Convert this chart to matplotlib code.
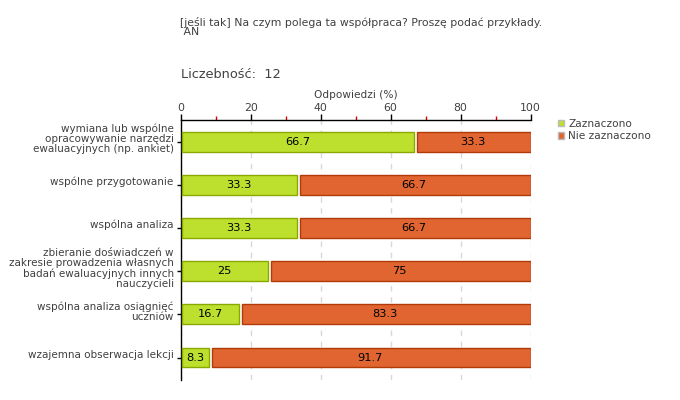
import matplotlib
matplotlib.use("Agg")
import matplotlib.pyplot as plt
import matplotlib.transforms as mtransforms
from matplotlib.ticker import MultipleLocator
from matplotlib.patches import Patch
import numpy as np

categories = [
    "wymiana lub wspólne\nopracowywanie narzędzi\newaluacyjnych (np. ankiet)",
    "wspólne przygotowanie",
    "wspólna analiza",
    "zbieranie doświadczeń w\nzakresie prowadzenia własnych\nbadań ewaluacyjnych innych\nnauczycieli",
    "wspólna analiza osiągnięć\nuczniów",
    "wzajemna obserwacja lekcji",
]
zaznaczono = [66.7, 33.3, 33.3, 25, 16.7, 8.3]
nie_zaznaczono = [33.3, 66.7, 66.7, 75, 83.3, 91.7]
series_names = ["Zaznaczono", "Nie zaznaczono"]
title = "[jeśli tak] Na czym polega ta współpraca? Proszę podać przykłady.\n AN"
count_text = "Liczebność:  12"
xlabel = "Odpowiedzi (%)"

green, green_edge = "#BDE02E", "#8AA800"
orange, orange_edge = "#E06530", "#B03A08"
txt = "#404040"

plt.rcParams['font.family'] = ['DejaVu Sans']
fig = plt.figure(figsize=(6.8, 4.0), dpi=100)
ax = fig.add_axes([0.2657, 0.05, 0.5147, 0.65])

y = np.arange(len(categories))
z = np.array(zaznaczono)
n = np.array(nie_zaznaczono)
h = 0.46
ax.barh(y, z - 0.55, left=0.4, height=h, color=green, edgecolor=green_edge, linewidth=1, zorder=3)
ax.barh(y, n - 0.75, left=z + 0.75, height=h, color=orange, edgecolor=orange_edge, linewidth=1, zorder=3)

for i in range(len(categories)):
    ax.text(z[i] / 2, y[i], f"{zaznaczono[i]:g}", ha='center', va='center', fontsize=8.2, color='black', zorder=4)
    ax.text(z[i] + n[i] / 2, y[i], f"{nie_zaznaczono[i]:g}", ha='center', va='center', fontsize=8.2, color='black', zorder=4)

ax.set_xlim(0, 100)
ax.set_ylim(5.52, -0.5)
ax.xaxis.tick_top()
ax.xaxis.set_label_position('top')
ax.xaxis.set_major_locator(MultipleLocator(20))
ax.xaxis.set_minor_locator(MultipleLocator(10))
ax.tick_params(axis='x', which='major', direction='out', length=4, width=1, color='black',
               labelsize=7.8, labelcolor=txt, pad=1)
ax.tick_params(axis='x', which='minor', direction='out', length=3, width=1, color='#DD0000')
ax.set_xlabel(xlabel, fontsize=7.6, color=txt, labelpad=4)
ax.set_yticks(y)
ax.set_yticklabels(categories, fontsize=7.5, color=txt, linespacing=1.05)
ax.tick_params(axis='y', direction='out', length=3, width=1, color='black', pad=2)
shift = mtransforms.ScaledTranslation(0, 0.04, fig.dpi_scale_trans)
for lab in ax.get_yticklabels():
    lab.set_transform(lab.get_transform() + shift)

for s in ['right', 'bottom']:
    ax.spines[s].set_visible(False)
ax.spines['top'].set_linewidth(1)
ax.spines['left'].set_linewidth(1)

ax.grid(axis='x', which='major', linestyle=(0, (4, 4)), color='#D8D8D8', linewidth=1, zorder=0)
ax.set_axisbelow(True)

handles = [Patch(facecolor=green, edgecolor='#BBBBBB'), Patch(facecolor=orange, edgecolor='#BBBBBB')]
leg = fig.legend(handles, series_names, loc='upper left', bbox_to_anchor=(0.820, 0.703),
                 frameon=False, fontsize=7.6, handlelength=0.6, handleheight=0.6,
                 handletextpad=0.4, labelspacing=0.25, borderaxespad=0, borderpad=0)
for t in leg.get_texts():
    t.set_color(txt)

fig.text(180 / 680, 1 - 27 / 400, title, fontsize=7.8, color=txt, ha='left', va='center', linespacing=0.95)
fig.text(181 / 680, 1 - 75 / 400, count_text, fontsize=9.3, color=txt, ha='left', va='center')

fig.savefig("out.png", dpi=100)
